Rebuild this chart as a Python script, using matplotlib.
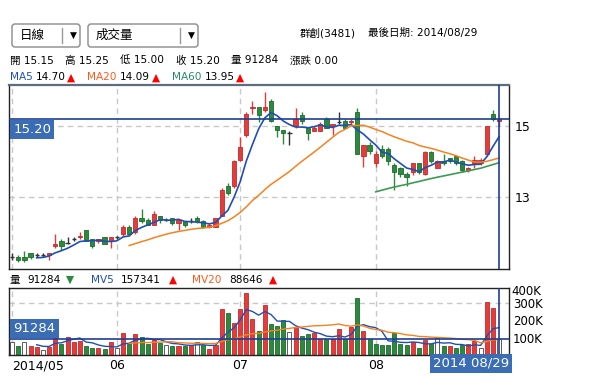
import numpy as np
import pandas as pd
import matplotlib
matplotlib.use("Agg")
import matplotlib.pyplot as plt
from matplotlib.patches import FancyBboxPatch
from matplotlib.transforms import IdentityTransform, offset_copy

plt.rcParams['font.family'] = ['DejaVu Sans', 'Noto Sans CJK TC']

# daily candles 2014/05 - 2014/08/29, 群創(3481)
opens = [11.30, 11.30, 11.30, 11.40, 11.35, 11.35, 11.35, 11.60, 11.75, 11.70,
         11.80, 11.85, 12.05, 11.80, 11.75, 11.85, 11.75, 11.85, 11.95, 12.15,
         12.00, 12.40, 12.35, 12.20, 12.45, 12.35, 12.40, 12.25, 12.30, 12.30,
         12.40, 12.30, 12.15, 12.15, 12.45, 13.30, 13.30, 14.05, 14.75, 15.50,
         15.55, 15.45, 15.70, 15.00, 14.90, 14.80, 15.00, 15.30, 14.95, 14.85,
         14.85, 15.20, 15.00, 15.10, 15.15, 15.10, 15.40, 14.15, 14.45, 13.95,
         14.35, 14.35, 13.90, 13.80, 13.65, 13.70, 13.95, 13.65, 14.25, 13.80,
         14.00, 14.10, 14.15, 14.00, 13.75, 13.95, 13.95, 14.20, 15.35, 15.15]
highs = [11.40, 11.35, 11.45, 11.40, 11.40, 11.40, 11.40, 11.95, 11.80, 11.85,
         11.85, 12.00, 12.05, 11.80, 11.80, 11.85, 11.85, 11.90, 12.20, 12.20,
         12.45, 12.65, 12.40, 12.60, 12.45, 12.40, 12.40, 12.35, 12.30, 12.40,
         12.45, 12.35, 12.25, 12.40, 13.25, 13.40, 14.05, 14.70, 15.40, 15.70,
         15.55, 15.95, 15.75, 15.00, 14.90, 14.85, 15.50, 15.40, 14.95, 15.00,
         15.10, 15.25, 15.05, 15.40, 15.20, 15.20, 15.50, 14.45, 14.55, 14.30,
         14.45, 14.40, 13.95, 13.85, 13.70, 13.95, 13.95, 14.30, 14.30, 14.05,
         14.20, 14.10, 14.15, 14.05, 13.85, 14.15, 14.10, 15.00, 15.45, 15.25]
lows = [11.20, 11.15, 11.15, 11.25, 11.30, 11.30, 11.20, 11.55, 11.50, 11.65,
        11.75, 11.80, 11.75, 11.55, 11.70, 11.65, 11.55, 11.80, 11.90, 11.90,
        11.95, 12.25, 12.20, 12.20, 12.25, 12.30, 12.20, 12.05, 12.15, 12.25,
        12.25, 12.10, 12.10, 12.15, 12.45, 13.05, 13.25, 14.00, 14.70, 15.35,
        15.10, 15.40, 15.10, 14.70, 14.50, 14.45, 14.95, 15.05, 14.60, 14.85,
        14.85, 14.95, 14.75, 15.05, 14.95, 15.05, 14.20, 13.85, 14.20, 13.85,
        14.10, 13.90, 13.20, 13.55, 13.30, 13.60, 13.65, 13.60, 13.95, 13.80,
        13.90, 13.95, 13.90, 13.70, 13.70, 13.80, 13.90, 14.15, 15.15, 15.00]
closes = [11.30, 11.20, 11.20, 11.30, 11.35, 11.35, 11.40, 11.65, 11.60, 11.70,
          11.80, 11.90, 11.75, 11.60, 11.80, 11.65, 11.85, 11.85, 12.15, 11.95,
          12.40, 12.30, 12.20, 12.50, 12.35, 12.35, 12.25, 12.35, 12.20, 12.30,
          12.30, 12.15, 12.20, 12.40, 13.20, 13.10, 14.00, 14.40, 15.35, 15.55,
          15.30, 15.55, 15.15, 14.90, 14.80, 14.80, 15.20, 15.15, 14.80, 14.95,
          15.05, 14.95, 15.05, 15.10, 14.95, 15.15, 14.20, 14.45, 14.30, 14.20,
          14.15, 14.00, 13.70, 13.65, 13.55, 13.95, 13.70, 14.25, 14.00, 14.00,
          13.95, 14.00, 13.95, 13.75, 13.80, 14.05, 14.05, 15.00, 15.20, 15.20]
# volume in thousand lots
volumes_k = [73, 52, 73, 52, 46, 27, 46, 167, 65, 103,
             73, 80, 52, 42, 42, 34, 73, 42, 126, 65,
             121, 103, 65, 86, 69, 57, 54, 54, 54, 57,
             73, 57, 34, 57, 263, 243, 182, 263, 355, 207,
             138, 287, 176, 167, 201, 134, 163, 109, 121, 128,
             92, 92, 92, 149, 92, 163, 329, 138, 92, 63,
             57, 57, 124, 63, 57, 73, 42, 86, 63, 99,
             52, 52, 40, 57, 61, 80, 38, 305, 272, 91.284]
month_starts = [0, 17, 37, 59]
month_labels = ["2014/05", "06", "07", "08"]
price_ticks = [13, 15]
vol_ticks = [100000, 200000, 300000]

RED, RED_E = '#e53b3b', '#c42a2a'
GREEN, GREEN_E = '#2b8a3e', '#1c6b2c'
BLUE = '#1d3f95'
C_MA5, C_MA20, C_MA60 = '#1f4fb5', '#f5821f', '#3c9a52'
BOX = '#3a6db4'
HF = 7.6  # header font size

W, H = 600, 392
fig = plt.figure(figsize=(W / 100, H / 100), dpi=100)


def fx(px):
    return px / W


def fy(py):
    return 1 - py / H


ax = fig.add_axes([fx(9), fy(269), fx(509) - fx(9), fy(85) - fy(269)])
axv = fig.add_axes([fx(9), fy(355), fx(509) - fx(9), fy(288) - fy(355)])

x = np.arange(len(closes))
o, h, l, c = (np.array(v) for v in (opens, highs, lows, closes))
vol = np.array(volumes_k) * 1000
up, down, flat = c > o, c < o, c == o

# ---- price panel
for a in (ax, axv):
    for m in month_starts:
        a.axvline(m, color='#c8c8c8', lw=1, dashes=(4, 3), zorder=0)
for p in price_ticks:
    ax.axhline(p, color='#c8c8c8', lw=1, dashes=(4, 3), zorder=0)

wick_col = np.where(up, RED, np.where(down, GREEN, '#333333'))
ax.vlines(x, l, h, colors=wick_col, lw=1, zorder=2)
ax.bar(x[up], (c - o)[up], bottom=o[up], width=0.7, color=RED, edgecolor=RED_E, lw=0.6, zorder=3)
ax.bar(x[down], (o - c)[down], bottom=c[down], width=0.7, color=GREEN, edgecolor=GREEN_E, lw=0.6, zorder=3)
ax.hlines(c[flat], x[flat] - 0.35, x[flat] + 0.35, colors='#333333', lw=1, zorder=3)

s = pd.Series(c)
ax.plot(x, s.rolling(5).mean(), color=C_MA5, lw=1.2, zorder=4)
ax.plot(x, s.rolling(20).mean(), color=C_MA20, lw=1.1, zorder=4)
ax.plot(x, s.rolling(60).mean(), color=C_MA60, lw=1.2, zorder=4)

ax.axhline(c[-1], color=BLUE, lw=1.2, zorder=5)
ax.axvline(x[-1], color=BLUE, lw=1.2, zorder=5)
ax.annotate(f"{c[-1]:.2f}", (0, c[-1]), xycoords=('axes fraction', 'data'),
            xytext=(3, -3), textcoords='offset points', ha='left', va='top',
            color='white', fontsize=9.5, zorder=6,
            bbox=dict(boxstyle='square,pad=0.25', fc=BOX, ec='none'))

ax.set_xlim(-0.49, 80.6)
ax.set_ylim(10.953, 16.16)
ax.set_xticks([])
ax.set_yticks(price_ticks)
ax.yaxis.tick_right()
ax.tick_params(axis='y', length=0, pad=4, labelsize=9)

# ---- volume panel
dc = np.diff(c, prepend=np.nan)
vcol = np.where(dc > 0, RED, np.where(dc < 0, GREEN, 'white'))
vedge = np.where(dc > 0, RED_E, np.where(dc < 0, GREEN_E, '#444444'))
axv.bar(x, vol, width=0.65, color=vcol, edgecolor=vedge, lw=0.6, zorder=2)
axv.axhline(300000, color='#c8c8c8', lw=1, dashes=(4, 3), zorder=0)

vs = pd.Series(vol)
axv.plot(x, vs.rolling(5).mean(), color=C_MA5, lw=1, zorder=4)
axv.plot(x, vs.rolling(20).mean(), color=C_MA20, lw=1, zorder=4)
axv.axhline(vol[-1], color=BLUE, lw=1.2, zorder=5)
axv.axvline(x[-1], color=BLUE, lw=1.2, zorder=5)
axv.annotate(f"{vol[-1]:.0f}", (0, vol[-1]), xycoords=('axes fraction', 'data'),
             xytext=(3, 3), textcoords='offset points', ha='left', va='bottom',
             color='white', fontsize=9.5, zorder=6,
             bbox=dict(boxstyle='square,pad=0.25', fc=BOX, ec='none'))

axv.set_xlim(-0.49, 80.6)
axv.set_ylim(0, 385000)
axv.set_yticks(vol_ticks)
axv.set_yticklabels([f"{v // 1000}K" for v in vol_ticks])
axv.yaxis.tick_right()
axv.tick_params(axis='y', length=0, pad=3, labelsize=8.5)
axv.text(1.005, 1.0, "400K", ha='left', va='top', fontsize=8.5,
         transform=offset_copy(axv.transAxes, fig=fig, x=0, y=3, units='dots'))
axv.set_xticks(month_starts)
axv.set_xticklabels(month_labels)
axv.tick_params(axis='x', length=0, pad=3, labelsize=9)
axv.get_xticklabels()[0].set_ha('left')

for a in (ax, axv):
    for sp in a.spines.values():
        sp.set_color('#222222')
        sp.set_linewidth(1)
ax.spines['top'].set_color('#5d6d7e')
ax.spines['top'].set_linewidth(1.6)

fig.text(fx(471), fy(363.5), "2014 08/29", ha='center', va='center', color='white',
         fontsize=9.5, bbox=dict(boxstyle='square,pad=0.25', fc=BOX, ec='none'))

# ---- header


def dropdown(x0, x1, label, sep):
    fig.add_artist(FancyBboxPatch((x0, H - 47), x1 - x0, 23,
                                  boxstyle='round,pad=0,rounding_size=3',
                                  transform=IdentityTransform(), fc='white', ec='#8a8a8a', lw=1))
    fig.add_artist(plt.Line2D([sep, sep], [H - 43, H - 28], transform=IdentityTransform(),
                              color='#9a9a9a', lw=1))
    fig.text(fx(x0 + 8), fy(35.5), label, va='center', fontsize=9)
    fig.text(fx(sep + 8), fy(35.5), "▼", va='center', fontsize=6.5)


dropdown(12, 80, "日線", 62)
dropdown(88, 198, "成交量", 180)
fig.text(fx(300), fy(33), "群創(3481)", va='center', fontsize=HF)
fig.text(fx(368), fy(33), "最後日期: 2014/08/29", va='center', fontsize=HF)

for xp, t in [(10, "開 15.15"), (65, "高 15.25"), (120, "低 15.00"),
              (176, "收 15.20"), (231, "量 91284"), (290, "漲跌 0.00")]:
    fig.text(fx(xp), fy(60.5), t, va='center', fontsize=HF)

for xp, t, col in [(10, "MA5", C_MA5), (36, "14.70", 'black'), (67, "▲", 'red'),
                   (87, "MA20", '#ff5a1a'), (120, "14.09", 'black'), (152, "▲", 'red'),
                   (172, "MA60", '#2a8a6a'), (205, "13.95", 'black'), (236, "▲", 'red')]:
    fig.text(fx(xp), fy(77.5), t, va='center', fontsize=HF, color=col)

for xp, t, col in [(10, "量", 'black'), (27, "91284", 'black'), (66, "▼", GREEN),
                   (91, "MV5", C_MA5), (121, "157341", 'black'), (169, "▲", 'red'),
                   (192, "MV20", '#ff5a1a'), (229, "88646", 'black'), (269, "▲", 'red')]:
    fig.text(fx(xp), fy(280), t, va='center', fontsize=HF, color=col)

fig.savefig("out.png", dpi=100)
